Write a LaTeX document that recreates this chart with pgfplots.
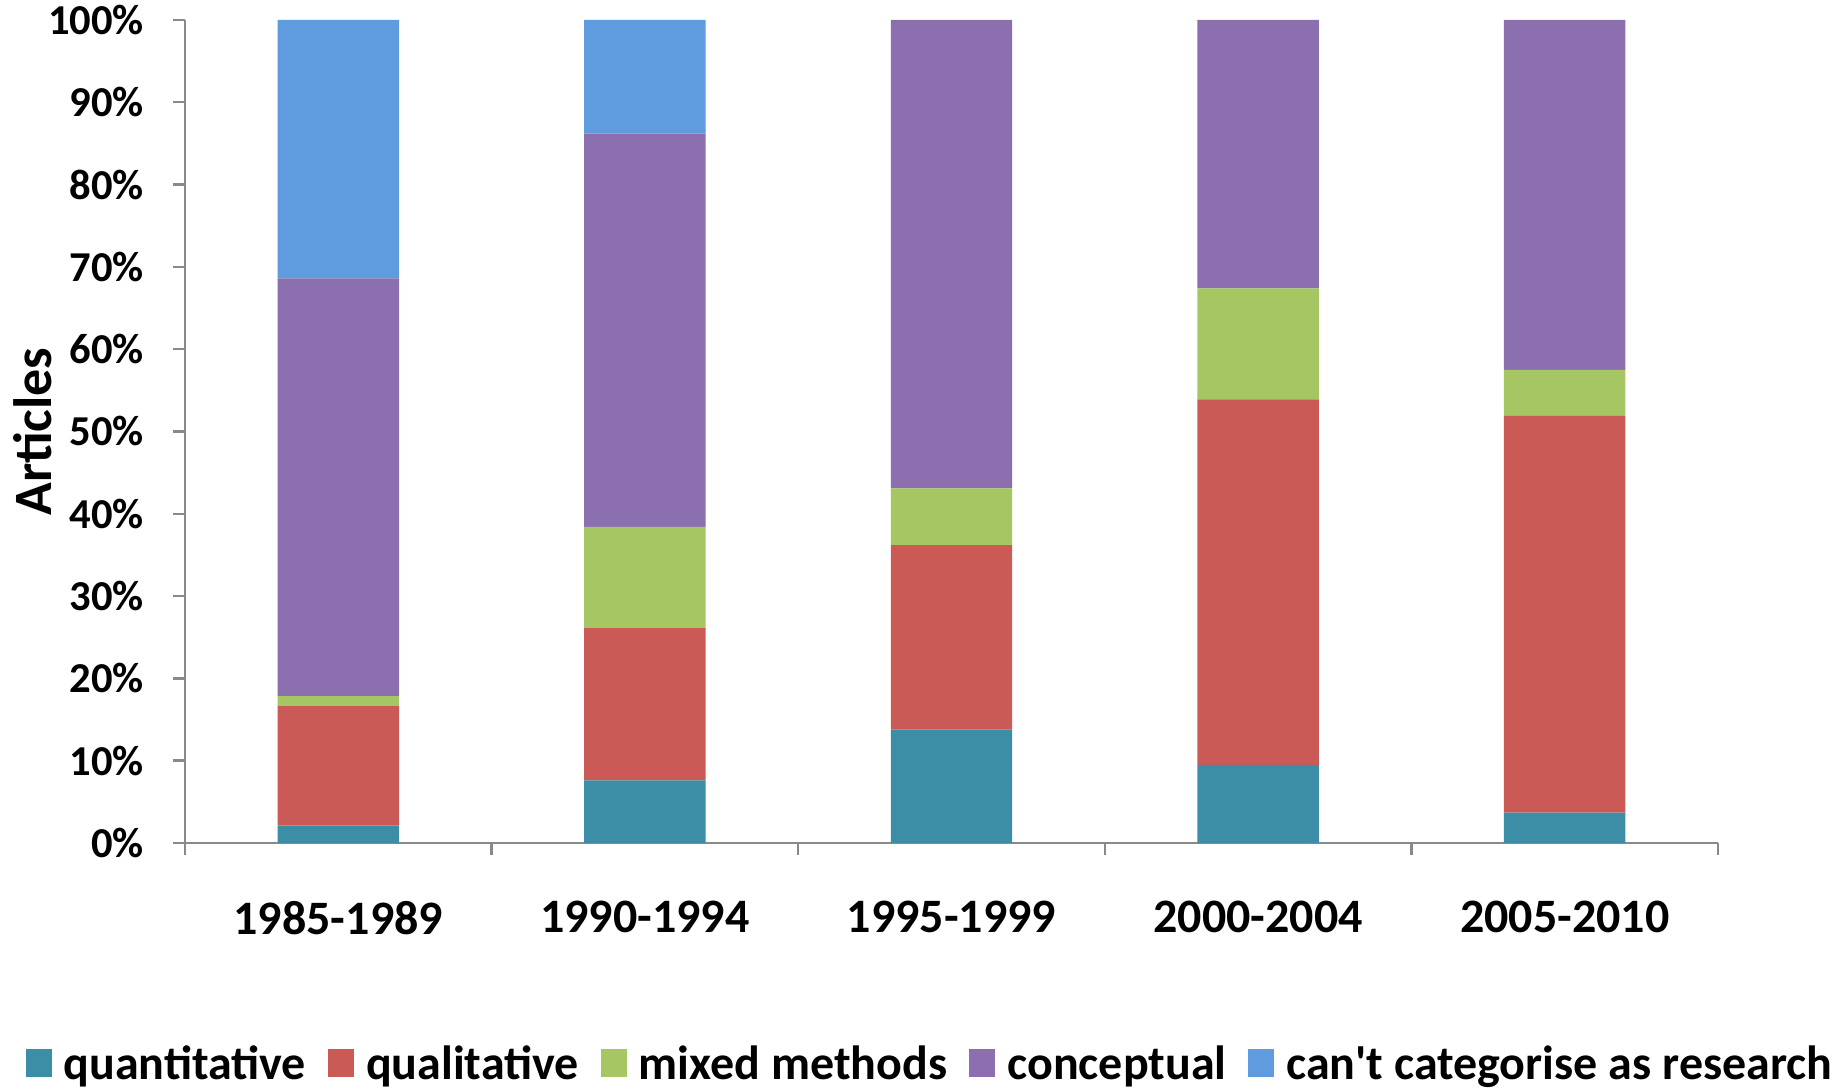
\documentclass[border=0pt]{standalone}
\usepackage{fontspec}
\setmainfont{Carlito}
\usepackage{pgfplots}
\pgfplotsset{compat=1.18}

\definecolor{cquant}{HTML}{3C8EA6}
\definecolor{cqual}{HTML}{CB5A57}
\definecolor{cmixed}{HTML}{A6C563}
\definecolor{cconc}{HTML}{8B6FAE}
\definecolor{ccant}{HTML}{5F9BDF}
\definecolor{caxis}{HTML}{898989}

\begin{document}
\begin{tikzpicture}
\begin{axis}[
    at={(0,0)}, anchor=south west,
    scale only axis,
    width=766.5pt, height=411.5pt,
    ybar stacked,
    bar width=0.396,
    xmin=-0.5, xmax=4.5,
    ymin=0, ymax=100,
    axis x line*=bottom,
    axis y line*=left,
    axis line style={caxis, line width=1.2pt},
    xtick={0,1,2,3,4},
    xticklabels={1985-1989,1990-1994,1995-1999,2000-2004,2005-2010},
    major x tick style={draw=none},
    minor xtick={-0.5,0.5,1.5,2.5,3.5,4.5},
    minor tick length=6pt,
    minor x tick style={caxis, line width=1.2pt},
    ytick={0,10,...,100},
    yticklabel={\pgfmathprintnumber{\tick}\%},
    tick align=outside,
    major tick length=6pt,
    tick style={caxis, line width=1.2pt},
    /pgf/number format/assume math mode=true,
    yticklabel style={font=\bfseries\fontsize{21.3}{25}\selectfont, xshift=-11pt},
    xticklabel style={font=\bfseries\fontsize{24}{28}\selectfont, yshift=-19.5pt},
    ylabel={Articles},
    ylabel style={font=\bfseries\fontsize{27}{32}\selectfont, at={(axis description cs:-0.0992,0.5)}, anchor=center},
    legend style={
        at={(axis description cs:0.4866,-0.2685)}, anchor=center,
        draw=none, font=\bfseries\fontsize{24}{28}\selectfont,
        legend columns=5,
        /tikz/every odd column/.append style={column sep=4pt},
        /tikz/every even column/.append style={column sep=9pt},
    },
    legend image code/.code={\fill[#1,draw=none] (0pt,-6.5pt) rectangle (13pt,7.5pt);},
]
\addplot[fill=cquant, draw=none] coordinates {(0,2.1) (1,7.6) (2,13.8) (3,9.5) (4,3.7)};
\addplot[fill=cqual, draw=none] coordinates {(0,14.6) (1,18.5) (2,22.4) (3,44.4) (4,48.2)};
\addplot[fill=cmixed, draw=none] coordinates {(0,1.15) (1,12.3) (2,6.9) (3,13.5) (4,5.6)};
\addplot[fill=cconc, draw=none] coordinates {(0,50.75) (1,47.8) (2,56.9) (3,32.6) (4,42.5)};
\addplot[fill=ccant, draw=none] coordinates {(0,31.4) (1,13.8) (2,0) (3,0) (4,0)};
\legend{quantitative, qualitative, mixed methods, conceptual, can\textquotesingle t categorise as research}
\end{axis}
\pgfresetboundingbox
\path (-92.5pt,-123.5pt) rectangle (831.5pt,421.5pt);
\end{tikzpicture}
\end{document}
